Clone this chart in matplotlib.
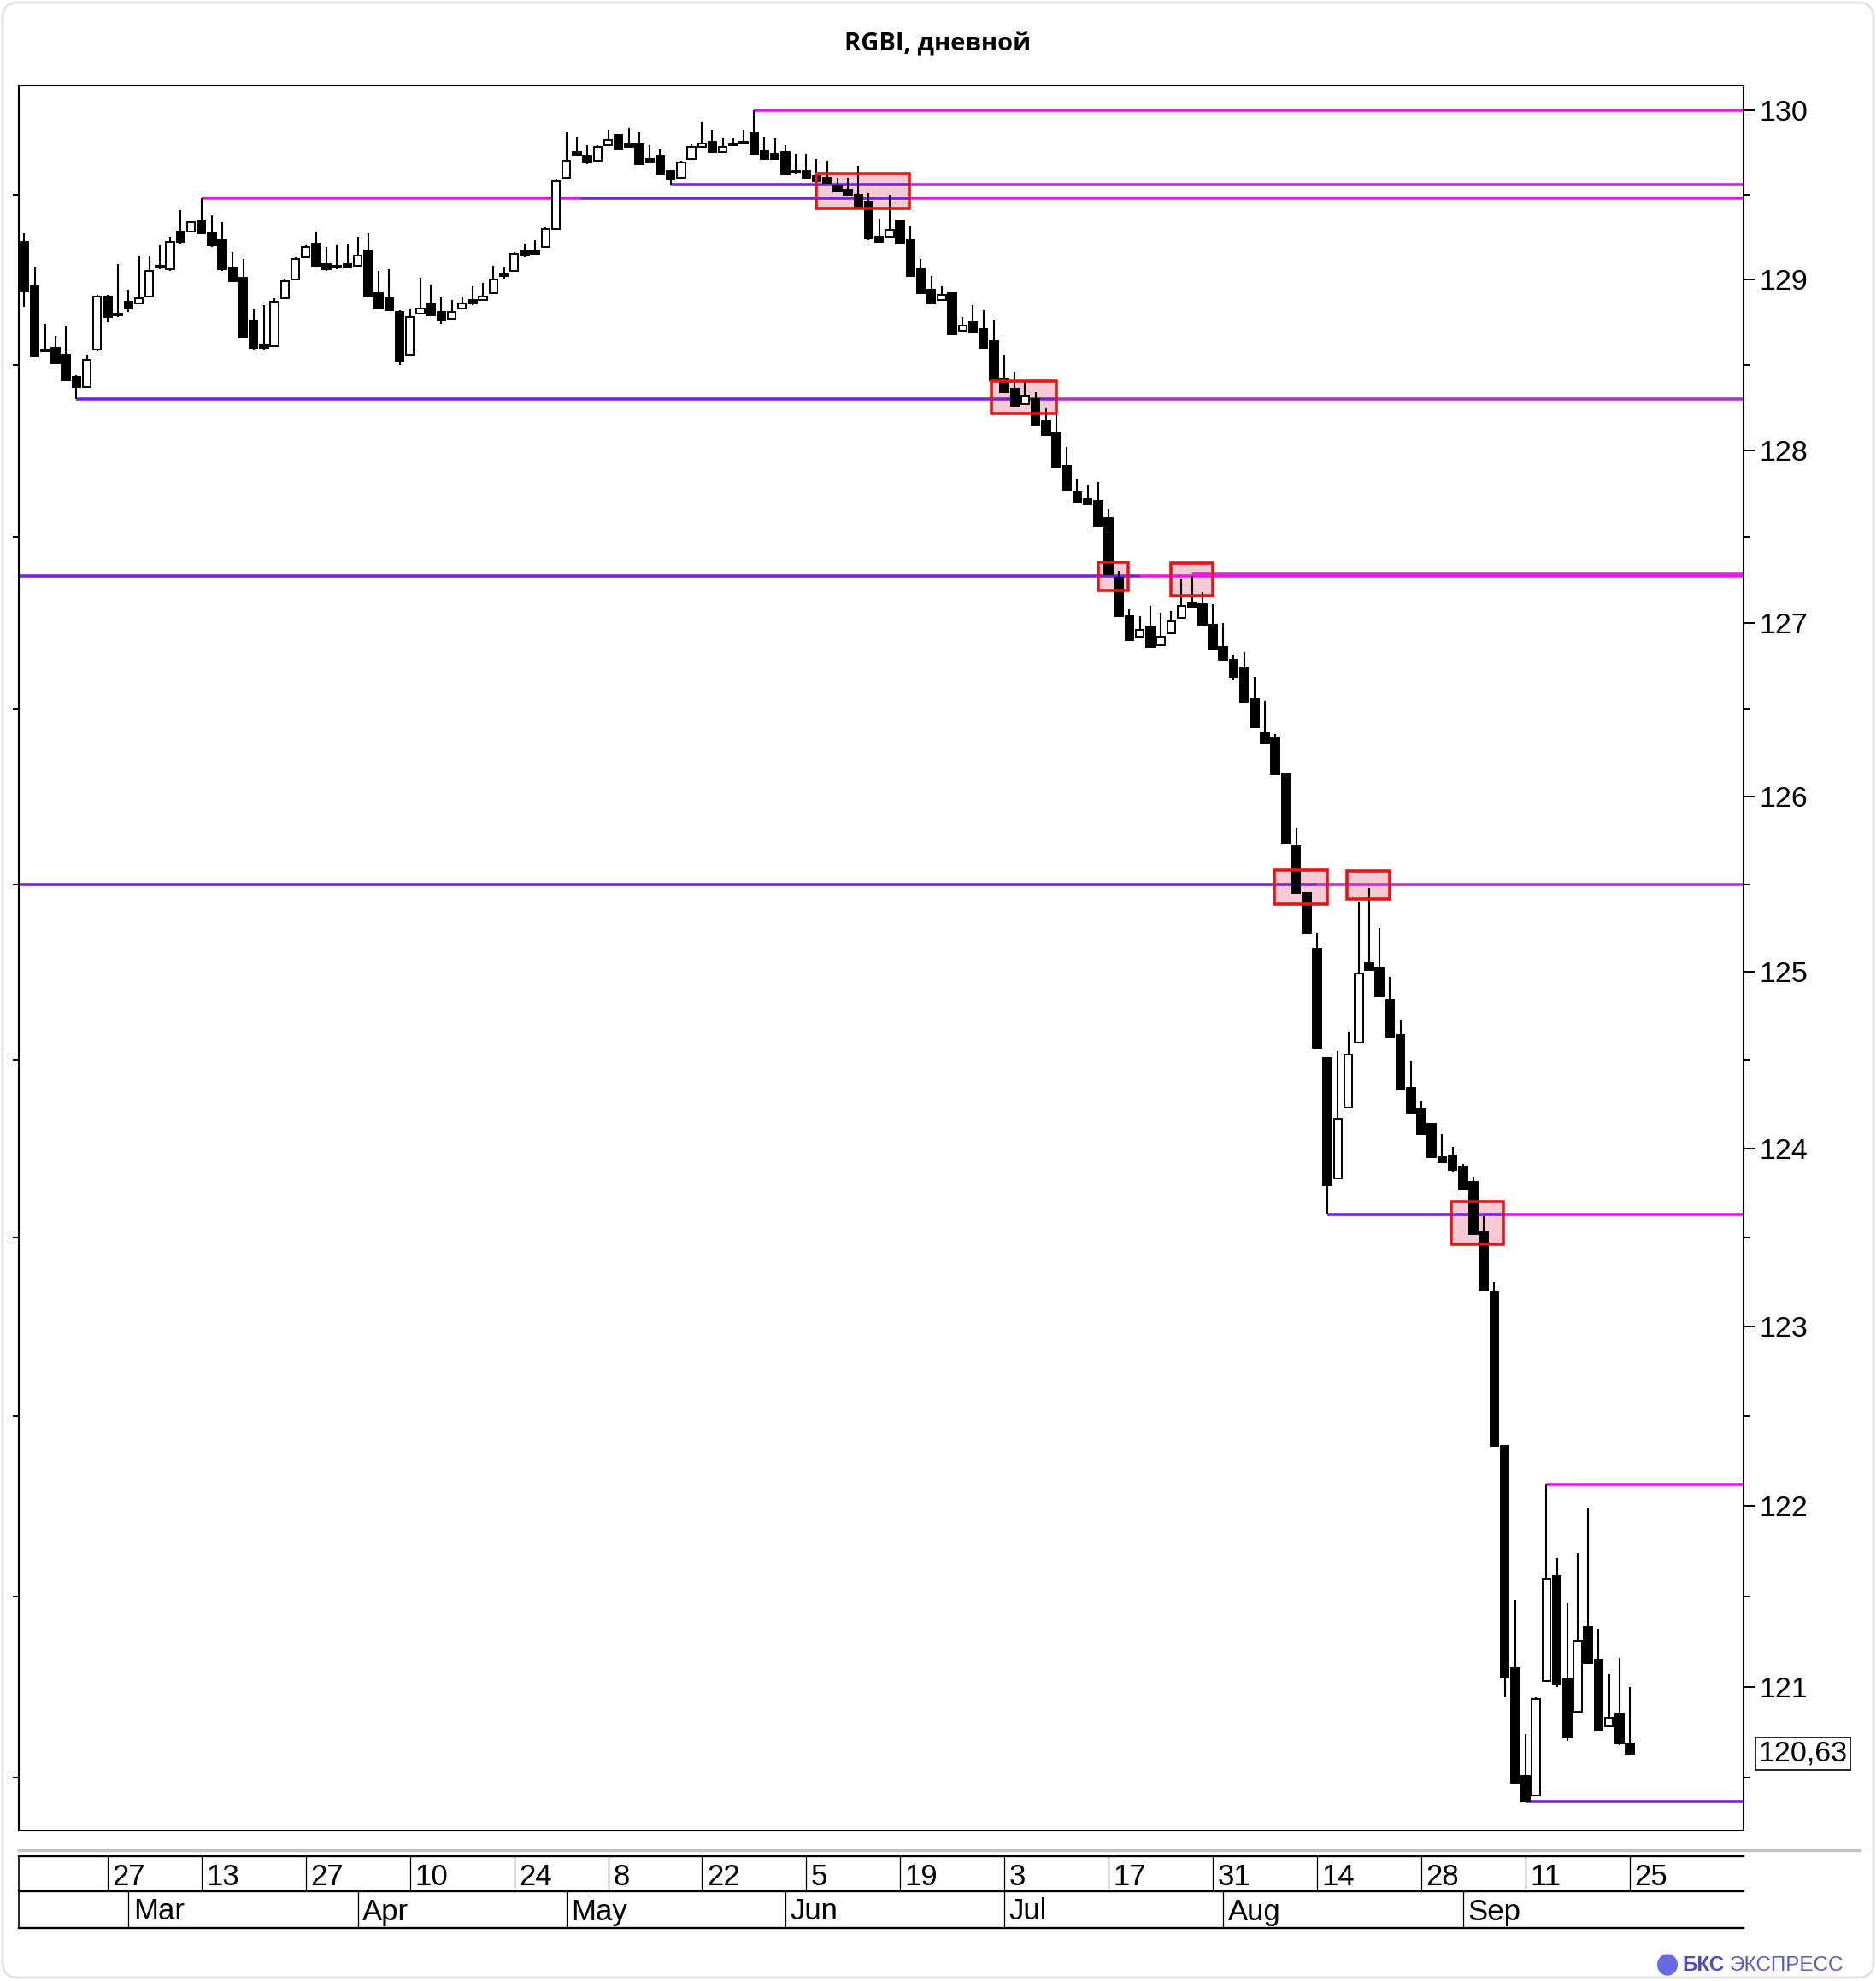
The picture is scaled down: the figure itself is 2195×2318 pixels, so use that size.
import matplotlib
matplotlib.use("Agg")
import matplotlib.pyplot as plt
import matplotlib.transforms as mtransforms
from matplotlib.patches import Rectangle, FancyBboxPatch, Circle
from matplotlib.lines import Line2D
from matplotlib.ticker import FixedLocator, FixedFormatter, NullFormatter

plt.rcParams['font.family'] = ['Liberation Sans', 'DejaVu Sans']

# RGBI daily candles, one entry per trading day (index 0 = first candle on the chart)
opens = [129.22, 128.96, 128.59, 128.60, 128.56, 128.43, 128.37, 128.59, 128.90, 128.80,
         128.87, 128.86, 128.90, 129.08, 129.06, 129.28, 129.28, 129.35, 129.27, 129.23,
         129.07, 129.01, 128.76, 128.62, 128.61, 128.89, 129.00, 129.13, 129.21, 129.09,
         129.08, 129.09, 129.08, 129.17, 128.92, 128.89, 128.81, 128.56, 128.80, 128.86,
         128.81, 128.77, 128.83, 128.88, 128.88, 128.92, 129.03, 129.05, 129.17, 129.17,
         129.19, 129.30, 129.60, 129.75, 129.73, 129.70, 129.79, 129.85, 129.80, 129.80,
         129.71, 129.73, 129.64, 129.60, 129.71, 129.78, 129.81, 129.75, 129.80, 129.81,
         129.86, 129.76, 129.74, 129.75, 129.64, 129.64, 129.61, 129.60, 129.55, 129.53,
         129.50, 129.46, 129.25, 129.25, 129.35, 129.23, 129.06, 128.94, 128.88, 128.92,
         128.70, 128.75, 128.71, 128.64, 128.42, 128.36, 128.27, 128.30, 128.17, 128.10,
         127.91, 127.76, 127.72, 127.71, 127.61, 127.26, 127.04, 126.92, 126.98, 126.87,
         126.94, 127.03, 127.12, 127.11, 126.99, 126.86, 126.79, 126.74, 126.56, 126.37,
         126.34, 126.13, 125.72, 125.45, 125.13, 124.51, 123.83, 124.23, 124.60, 125.05,
         125.02, 124.84, 124.64, 124.34, 124.22, 124.14, 123.95, 123.96, 123.90, 123.81,
         123.53, 123.19, 122.33, 121.10, 120.51, 120.40, 121.03, 121.61, 121.04, 120.86,
         121.33, 121.15, 120.78, 120.85, 120.69]
highs = [129.27, 129.07, 128.74, 128.67, 128.73, 128.44, 128.56, 128.91, 128.91, 129.09,
         128.94, 129.14, 129.14, 129.20, 129.25, 129.41, 129.34, 129.48, 129.38, 129.34,
         129.16, 129.12, 128.83, 128.85, 128.89, 129.00, 129.13, 129.20, 129.28, 129.19,
         129.20, 129.21, 129.25, 129.27, 129.05, 129.06, 128.82, 128.83, 129.01, 128.97,
         128.90, 128.88, 128.90, 128.96, 128.98, 129.08, 129.07, 129.16, 129.21, 129.23,
         129.31, 129.59, 129.87, 129.84, 129.79, 129.79, 129.88, 129.85, 129.89, 129.87,
         129.79, 129.77, 129.64, 129.70, 129.80, 129.93, 129.88, 129.83, 129.83, 129.88,
         130.00, 129.84, 129.83, 129.79, 129.74, 129.74, 129.71, 129.70, 129.60, 129.60,
         129.67, 129.51, 129.36, 129.50, 129.35, 129.32, 129.12, 129.02, 128.96, 128.92,
         128.78, 128.85, 128.82, 128.76, 128.56, 128.46, 128.40, 128.34, 128.25, 128.21,
         128.02, 127.84, 127.80, 127.82, 127.66, 127.30, 127.08, 127.04, 127.10, 127.06,
         127.07, 127.25, 127.27, 127.18, 127.11, 127.00, 126.82, 126.83, 126.69, 126.55,
         126.36, 126.14, 125.82, 125.45, 125.22, 124.51, 124.55, 124.66, 125.40, 125.48,
         125.25, 124.97, 124.73, 124.49, 124.27, 124.14, 124.08, 124.01, 123.91, 123.84,
         123.62, 123.25, 122.33, 121.48, 120.74, 120.94, 122.12, 121.71, 121.46, 121.74,
         121.99, 121.32, 121.07, 121.16, 121.00]
lows = [128.84, 128.55, 128.58, 128.51, 128.41, 128.30, 128.37, 128.58, 128.75, 128.78,
        128.81, 128.86, 128.90, 129.06, 129.05, 129.21, 129.28, 129.27, 129.19, 129.05,
        128.99, 128.66, 128.59, 128.59, 128.61, 128.89, 129.00, 129.13, 129.07, 129.05,
        129.06, 129.07, 129.08, 128.90, 128.83, 128.82, 128.50, 128.56, 128.80, 128.79,
        128.74, 128.77, 128.83, 128.85, 128.88, 128.92, 129.00, 129.05, 129.13, 129.15,
        129.19, 129.30, 129.60, 129.73, 129.68, 129.70, 129.79, 129.77, 129.78, 129.68,
        129.69, 129.62, 129.56, 129.60, 129.71, 129.78, 129.75, 129.75, 129.79, 129.80,
        129.74, 129.71, 129.71, 129.62, 129.62, 129.60, 129.58, 129.57, 129.52, 129.50,
        129.43, 129.23, 129.22, 129.25, 129.21, 129.02, 128.92, 128.86, 128.88, 128.68,
        128.70, 128.69, 128.60, 128.41, 128.34, 128.26, 128.27, 128.15, 128.09, 127.90,
        127.77, 127.70, 127.69, 127.56, 127.28, 127.04, 126.90, 126.92, 126.86, 126.87,
        126.94, 127.03, 127.09, 126.99, 126.85, 126.79, 126.67, 126.54, 126.40, 126.31,
        126.13, 125.73, 125.45, 125.22, 124.57, 123.63, 123.83, 124.23, 124.60, 125.01,
        124.86, 124.63, 124.33, 124.20, 124.08, 123.95, 123.92, 123.87, 123.77, 123.52,
        123.20, 122.33, 120.94, 120.47, 120.37, 120.40, 121.03, 121.00, 120.70, 120.86,
        121.13, 120.76, 120.78, 120.68, 120.62]
closes = [128.93, 128.55, 128.58, 128.51, 128.41, 128.37, 128.53, 128.90, 128.78, 128.79,
          128.83, 128.89, 129.05, 129.07, 129.22, 129.22, 129.34, 129.27, 129.20, 129.06,
          128.99, 128.66, 128.60, 128.60, 128.87, 128.99, 129.12, 129.19, 129.08, 129.06,
          129.07, 129.07, 129.14, 128.90, 128.83, 128.82, 128.52, 128.78, 128.83, 128.79,
          128.76, 128.81, 128.86, 128.86, 128.90, 129.00, 129.02, 129.15, 129.14, 129.15,
          129.30, 129.58, 129.70, 129.73, 129.69, 129.78, 129.82, 129.77, 129.78, 129.68,
          129.69, 129.62, 129.59, 129.69, 129.78, 129.80, 129.75, 129.78, 129.79, 129.80,
          129.74, 129.71, 129.71, 129.62, 129.63, 129.60, 129.58, 129.57, 129.52, 129.50,
          129.43, 129.24, 129.22, 129.29, 129.21, 129.02, 128.92, 128.86, 128.91, 128.68,
          128.73, 128.69, 128.60, 128.41, 128.34, 128.26, 128.32, 128.15, 128.09, 127.90,
          127.77, 127.70, 127.69, 127.56, 127.28, 127.04, 126.90, 126.96, 126.86, 126.92,
          127.01, 127.10, 127.09, 126.99, 126.85, 126.79, 126.69, 126.54, 126.40, 126.31,
          126.13, 125.73, 125.45, 125.22, 124.57, 123.79, 124.17, 124.53, 124.99, 125.01,
          124.86, 124.63, 124.33, 124.20, 124.08, 123.95, 123.92, 123.88, 123.77, 123.52,
          123.20, 122.33, 121.05, 120.47, 120.37, 120.93, 121.59, 121.01, 120.72, 121.25,
          121.13, 120.76, 120.83, 120.69, 120.63]
last_price = 120.63
last_label = '120,63'

# date scale (trading-day index of each label)
day_idx = [8, 17, 27, 37, 47, 56, 65, 75, 84, 94, 104, 114, 124, 134, 144, 154]
day_txt = ['27', '13', '27', '10', '24', '8', '22', '5', '19', '3', '17', '31', '14', '28', '11', '25']
month_idx = [10, 32, 52, 73, 94, 115, 138]
month_txt = ['Mar', 'Apr', 'May', 'Jun', 'Jul', 'Aug', 'Sep']

y_major = [121, 122, 123, 124, 125, 126, 127, 128, 129, 130]
y_minor = [120.5, 121.5, 122.5, 123.5, 124.5, 125.5, 126.5, 127.5, 128.5, 129.5]

# level lines: price, start index, end index (None = right edge), kind
PURPLE = '#7a22d8'
MAGENTA = '#e61ae6'
MIXED = '#b930d4'
level_price = [130.00, 129.56, 129.56, 129.48, 129.48, 129.48, 128.30, 128.30,
               127.27, 127.27, 127.285, 125.50, 125.50, 123.63, 123.63, 122.12, 120.37]
level_x0 = [70, 62, 85, 17, 53.3, 85, 5, 99, -0.6, 107, 112, -0.6, 124, 125, 142, 146, 144]
level_x1 = [None, 85, None, 53.3, 85, None, 99, None, 107, None, None, 124, None, 142, None, None, None]
level_col = [MAGENTA, PURPLE, MIXED, MAGENTA, PURPLE, MAGENTA, PURPLE, MIXED,
             PURPLE, MAGENTA, MAGENTA, PURPLE, MIXED, PURPLE, MAGENTA, MAGENTA, PURPLE]

# highlighted breakout zones
box_x0 = [75.95, 92.8, 103.0, 110.0, 119.9, 126.9, 136.9]
box_x1 = [84.9, 99.0, 105.9, 114.0, 125.0, 131.0, 141.9]
box_lo = [129.418, 128.216, 127.189, 127.156, 125.388, 125.416, 123.459]
box_hi = [129.627, 128.407, 127.353, 127.345, 125.581, 125.574, 123.699]

W, H = 2195, 2318
XMIN, XMAX = -0.52, 164.9


def fx(px):
    return px / W


def fy(px):
    return 1 - px / H


fig = plt.figure(figsize=(W / 100, H / 100), dpi=100)
fig.patch.set_facecolor('white')

# card frame
fig.add_artist(FancyBboxPatch((fx(3), fy(2314)), fx(2189), (2311) / H,
                              boxstyle='round,pad=0,rounding_size=0.008',
                              transform=fig.transFigure, fc='none', ec='#e2e2e2', lw=2))

ax = fig.add_axes([fx(22), fy(2142), fx(2040) - fx(22), fy(100) - fy(2142)])
ax.set_yscale('log')
ax.set_xlim(XMIN, XMAX)
ax.set_ylim(120.21, 130.145)

width = 0.78
for i in range(len(opens)):
    o, h, l, c = opens[i], highs[i], lows[i], closes[i]
    ax.vlines(i, l, h, color='black', lw=1.5, zorder=3)
    lo, hi = min(o, c), max(o, c)
    face = 'white' if c > o else 'black'
    ax.add_patch(Rectangle((i - width / 2, lo), width, hi - lo, facecolor=face,
                           edgecolor='black', lw=1.4, zorder=4))

for p, x0, x1, col in zip(level_price, level_x0, level_x1, level_col):
    ax.hlines(p, x0, XMAX if x1 is None else x1, color=col, lw=2.6, zorder=2)

for x0, x1, lo, hi in zip(box_x0, box_x1, box_lo, box_hi):
    ax.add_patch(Rectangle((x0, lo), x1 - x0, hi - lo, facecolor='#f2bfca',
                           alpha=0.8, edgecolor='none', zorder=1))
    ax.add_patch(Rectangle((x0, lo), x1 - x0, hi - lo, facecolor='none',
                           edgecolor='#e01818', lw=2.6, zorder=5))

ax.yaxis.set_major_locator(FixedLocator(y_major))
ax.yaxis.set_major_formatter(FixedFormatter([str(v) for v in y_major]))
ax.yaxis.set_minor_locator(FixedLocator(y_minor))
ax.yaxis.set_minor_formatter(NullFormatter())
ax.tick_params(axis='y', which='major', left=False, right=True, labelleft=False,
               labelright=True, direction='out', length=10, width=1.4,
               labelsize=24.5, pad=3)
ax.tick_params(axis='y', which='minor', left=True, right=True, direction='out',
               length=5, width=1.4)
ax.tick_params(axis='x', which='both', bottom=False, labelbottom=False)
for s in ax.spines.values():
    s.set_linewidth(1.5)

# last price marker
trans = mtransforms.blended_transform_factory(ax.transAxes, ax.transData)
ax.text(1.0085, last_price, last_label, transform=trans, fontsize=24.5,
        ha='left', va='center',
        bbox=dict(boxstyle='square,pad=0.1', fc='white', ec='black', lw=1.2))

# date scale under the chart
fig.add_artist(Line2D([fx(22), fx(2176)], [fy(2165), fy(2165)], color='#c4c4c4', lw=2.5))
axd = fig.add_axes([fx(22), fy(2256), fx(2040) - fx(22), fy(2172) - fy(2256)])
axd.set_xlim(XMIN, XMAX)
axd.set_ylim(84, 0)
axd.axis('off')
for yy in (0, 41, 84):
    axd.axhline(yy, color='black', lw=1.7, clip_on=False)
axd.vlines([XMIN], 0, 84, color='black', lw=1.2, clip_on=False)
axd.vlines(day_idx, 0, 41, color='black', lw=0.9)
axd.vlines(month_idx, 41, 84, color='black', lw=0.9)
for i, t in zip(day_idx, day_txt):
    axd.annotate(t, (i, 33.5), xytext=(4, 0), textcoords='offset points',
                 fontsize=25, ha='left', va='baseline')
for i, t in zip(month_idx, month_txt):
    axd.annotate(t, (i, 74.5), xytext=(4, 0), textcoords='offset points',
                 fontsize=25, ha='left', va='baseline')

# title
fig.text(fx(1097), fy(52), 'RGBI, дневной', ha='center', va='center',
         fontsize=21, fontweight='bold', family=['Open Sans', 'DejaVu Sans'])

# logo
fig.add_artist(Circle((fx(1951), fy(2299)), 12 / W, transform=fig.transFigure,
                      fc='#6a6ae0', ec='none'))
fig.text(fx(1968), fy(2300), 'БКС', ha='left', va='center', fontsize=17.5,
         fontweight='bold', color='#4b4bc6')
fig.text(fx(2024), fy(2300), 'ЭКСПРЕСС', ha='left', va='center', fontsize=17.5,
         color='#5a5ad0')

fig.savefig('out.png', dpi=100)
